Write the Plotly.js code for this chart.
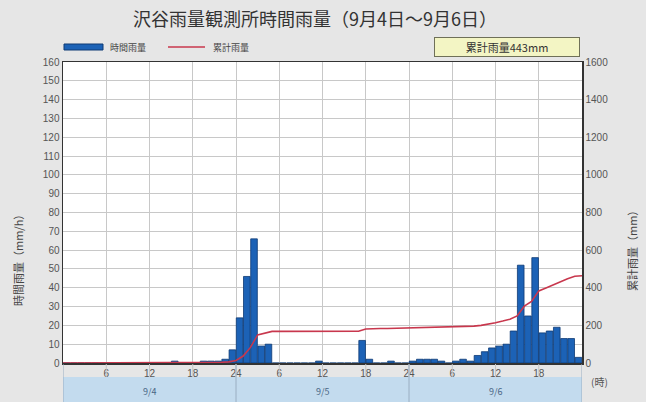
<!DOCTYPE html>
<html><head><meta charset="utf-8">
<script src="https://cdn.plot.ly/plotly-3.0.1.min.js"></script>
<style>html,body{margin:0;padding:0;background:#e6e6e6;}#chart{width:646px;height:402px;}</style>
</head><body><div id="chart"></div>
<script>
const chartTitle = '沢谷雨量観測所時間雨量（9月4日～9月6日）';
const seriesNames = ['時間雨量', '累計雨量'];
const totalLabel = '累計雨量443mm';
const leftTitle = '時間雨量（mm/h）';
const rightTitle = '累計雨量（mm）';
const hourUnit = '(時)';
const hourTicks = [6, 12, 18, 24, 30, 36, 42, 48, 54, 60, 66];
const hourTickLabels = ['6', '12', '18', '24', '6', '12', '18', '24', '6', '12', '18'];
const dayLabels = ['9/4', '9/5', '9/6'];
const dayCenters = [12, 36, 60];
const dayBounds = [0, 24, 48, 72];
// hourly rainfall (mm/h), one value per hour slot from 9/4 0:00 to 9/6 24:00
const hourly = [
  0,0,0,0,0,0, 0,0,0,0,0,0, 0,0,0,1,0,0, 0,1,1,1,2,7,
  24,46,66,9,10,0, 0,0,0,0,0,1, 0,0,0,0,0,12, 2,0,0,1,0,0,
  1,2,2,2,1,0, 1,2,1,4,6,8, 9,10,17,52,25,56, 16,17,19,13,13,3
];

// derived
const slotX = hourly.map((v, i) => i + 0.5);
const cumX = [0], cumY = [0];
hourly.forEach((v, i) => { cumX.push(i + 1); cumY.push(cumY[i] + v); });

// pixel helpers for decorations (plot area 63..582 x 62..363)
const L = 63, R = 582, T = 62, B = 363;
const px = x => (x - L) / (R - L);
const py = y => (B - y) / (B - T);

const traces = [
  {type: 'bar', x: slotX, y: hourly, name: seriesNames[0], yaxis: 'y',
   marker: {color: '#1c62b6', line: {color: '#0e3a74', width: 0.8}}, hoverinfo: 'x+y'},
  {type: 'scatter', mode: 'lines', x: cumX, y: cumY, name: seriesNames[1], yaxis: 'y2',
   line: {color: '#c8374d', width: 1.6}}
];

const shapes = [];
// date band
shapes.push({type: 'rect', xref: 'x', yref: 'paper', x0: 0, x1: 72, y0: py(402), y1: py(377),
  fillcolor: '#c3dbee', line: {width: 0}, layer: 'below'});
hourTicks.forEach(h => shapes.push({type: 'line', xref: 'x', yref: 'paper', x0: h, x1: h,
  y0: py(364), y1: py(377), line: {color: '#c4c4c4', width: 1}}));
dayBounds.forEach(h => shapes.push({type: 'line', xref: 'x', yref: 'paper', x0: h, x1: h,
  y0: py(364), y1: py(402), line: {color: '#9aaec2', width: 1}}));
// legend swatches
shapes.push({type: 'rect', xref: 'paper', yref: 'paper', x0: px(64), x1: px(103), y0: py(50), y1: py(44),
  fillcolor: '#1c62b6', line: {color: '#0e3a74', width: 1}});
shapes.push({type: 'line', xref: 'paper', yref: 'paper', x0: px(168), x1: px(205), y0: py(47), y1: py(47),
  line: {color: '#c8374d', width: 1.6}});

const annotations = [
  {xref: 'paper', yref: 'paper', x: px(108), y: py(47), xanchor: 'left', yanchor: 'middle',
   text: seriesNames[0], showarrow: false, font: {size: 9, color: '#444'}},
  {xref: 'paper', yref: 'paper', x: px(211), y: py(47), xanchor: 'left', yanchor: 'middle',
   text: seriesNames[1], showarrow: false, font: {size: 9, color: '#444'}},
  {xref: 'paper', yref: 'paper', x: px(507), y: py(47), xanchor: 'center', yanchor: 'middle',
   text: totalLabel, showarrow: false, font: {size: 11, color: '#333'},
   bgcolor: '#f3f5c4', bordercolor: '#6f7058', borderwidth: 1, width: 142, height: 16},
  {xref: 'paper', yref: 'paper', x: px(18), y: py(258), xanchor: 'center', yanchor: 'middle',
   text: leftTitle, textangle: -90, showarrow: false, font: {size: 11, color: '#444'}},
  {xref: 'paper', yref: 'paper', x: px(632), y: py(248), xanchor: 'center', yanchor: 'middle',
   text: rightTitle, textangle: -90, showarrow: false, font: {size: 11, color: '#444'}},
  {xref: 'paper', yref: 'paper', x: px(589), y: py(381), xanchor: 'left', yanchor: 'middle',
   text: hourUnit, showarrow: false, font: {size: 10, color: '#555'}}
];
dayLabels.forEach((d, i) => annotations.push({xref: 'x', yref: 'paper', x: dayCenters[i], y: py(391),
  xanchor: 'center', yanchor: 'middle', text: d, showarrow: false, font: {size: 9, color: '#4a6785'}}));

const layout = {
  width: 646, height: 402,
  paper_bgcolor: '#e6e6e6', plot_bgcolor: '#ffffff',
  margin: {l: L, r: 646 - R, t: T, b: 402 - B, pad: 0},
  font: {family: '"Noto Sans CJK JP", "Noto Sans", sans-serif', size: 10, color: '#555'},
  title: {text: chartTitle, x: 315 / 646, xanchor: 'center', y: 1 - 20 / 402, yanchor: 'middle',
    yref: 'container', font: {size: 18, color: '#333'}},
  showlegend: false,
  bargap: 0.08,
  xaxis: {range: [0, 72], tickmode: 'array', tickvals: hourTicks, ticktext: hourTickLabels,
    showgrid: true, gridcolor: '#c8c8c8', gridwidth: 1, showline: true, linecolor: '#333', linewidth: 1.5,
    mirror: true, ticks: '', zeroline: false, tickfont: {size: 10, color: '#555', family: '"Liberation Sans", Arial, sans-serif'}},
  yaxis: {range: [0, 160], dtick: 10, showgrid: true, gridcolor: '#c8c8c8', gridwidth: 1, showline: true,
    linecolor: '#333', linewidth: 1.5, ticks: '', zeroline: false,
    tickfont: {size: 10, color: '#555', family: '"Liberation Sans", Arial, sans-serif'}},
  yaxis2: {range: [0, 1600], dtick: 200, overlaying: 'y', side: 'right', showgrid: false, showline: true,
    linecolor: '#333', linewidth: 1.5, ticks: '', zeroline: false,
    tickfont: {size: 10, color: '#555', family: '"Liberation Sans", Arial, sans-serif'}},
  shapes: shapes,
  annotations: annotations
};

Plotly.newPlot('chart', traces, layout, {displayModeBar: false, staticPlot: true});
</script>
</body></html>
